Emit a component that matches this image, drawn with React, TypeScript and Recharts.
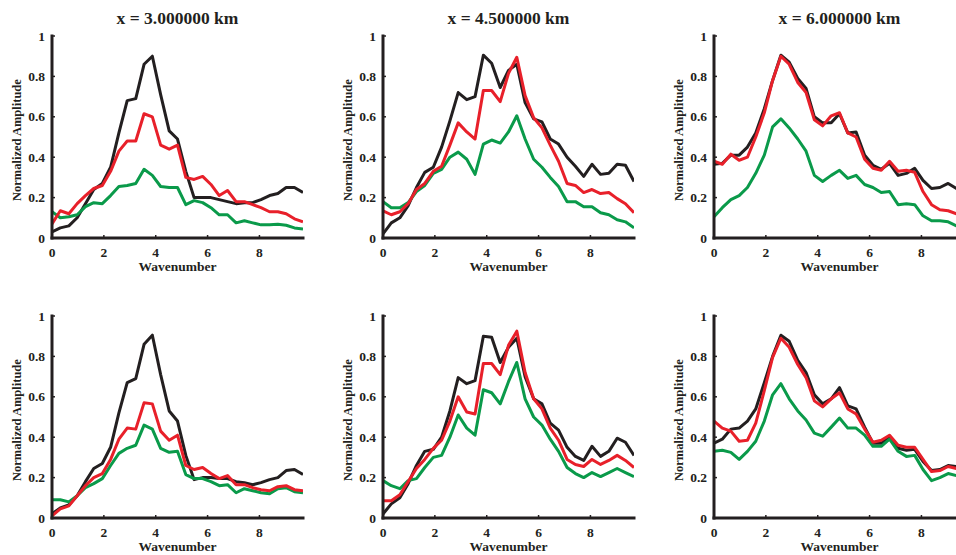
import { LineChart, Line, XAxis, YAxis } from "recharts";

const WAVENUMBERS = [
  0, 0.32, 0.65, 0.97, 1.29, 1.61, 1.94, 2.26, 2.58, 2.9, 3.23, 3.55, 3.87, 4.19, 4.52, 4.84,
  5.16, 5.48, 5.81, 6.13, 6.45, 6.77, 7.1, 7.42, 7.74, 8.06, 8.39, 8.71, 9.03, 9.35, 9.68,
];

const X_TICKS = [0, 2, 4, 6, 8];
const Y_TICKS = [0, 0.2, 0.4, 0.6, 0.8, 1];
const TITLES = ["x = 3.000000 km", "x = 4.500000 km", "x = 6.000000 km"];

// top row
const BLACK_A1 = [0.03, 0.05, 0.06, 0.1, 0.17, 0.24, 0.27, 0.35, 0.52, 0.68, 0.69, 0.86, 0.9, 0.71, 0.53, 0.49, 0.33, 0.2, 0.2, 0.2, 0.19, 0.18, 0.17, 0.175, 0.175, 0.19, 0.21, 0.22, 0.25, 0.25, 0.225];
const RED_A1 = [0.07, 0.135, 0.12, 0.17, 0.21, 0.245, 0.26, 0.33, 0.43, 0.48, 0.48, 0.615, 0.6, 0.46, 0.44, 0.46, 0.3, 0.29, 0.305, 0.265, 0.21, 0.235, 0.18, 0.18, 0.165, 0.15, 0.13, 0.13, 0.12, 0.095, 0.08];
const GREEN_A1 = [0.13, 0.1, 0.105, 0.115, 0.155, 0.175, 0.17, 0.21, 0.255, 0.26, 0.27, 0.34, 0.31, 0.255, 0.25, 0.25, 0.165, 0.185, 0.175, 0.15, 0.115, 0.115, 0.075, 0.085, 0.075, 0.065, 0.065, 0.068, 0.063, 0.05, 0.045];

const BLACK_A2 = [0.02, 0.075, 0.1, 0.16, 0.25, 0.325, 0.35, 0.45, 0.58, 0.72, 0.685, 0.7, 0.905, 0.865, 0.745, 0.83, 0.86, 0.67, 0.59, 0.575, 0.49, 0.465, 0.4, 0.355, 0.305, 0.365, 0.315, 0.32, 0.365, 0.36, 0.28];
const RED_A2 = [0.135, 0.115, 0.13, 0.17, 0.24, 0.27, 0.33, 0.355, 0.46, 0.57, 0.525, 0.49, 0.73, 0.73, 0.675, 0.815, 0.895, 0.705, 0.595, 0.545, 0.46, 0.38, 0.27, 0.26, 0.225, 0.24, 0.22, 0.225, 0.195, 0.17, 0.125];
const GREEN_A2 = [0.18, 0.15, 0.15, 0.175, 0.23, 0.26, 0.32, 0.34, 0.4, 0.425, 0.39, 0.315, 0.465, 0.485, 0.47, 0.525, 0.605, 0.49, 0.39, 0.35, 0.3, 0.255, 0.18, 0.18, 0.155, 0.155, 0.125, 0.115, 0.09, 0.08, 0.05];

const BLACK_A3 = [0.365, 0.37, 0.41, 0.41, 0.45, 0.52, 0.64, 0.78, 0.905, 0.87, 0.79, 0.74, 0.6, 0.57, 0.57, 0.615, 0.52, 0.525, 0.41, 0.36, 0.34, 0.37, 0.31, 0.32, 0.345, 0.285, 0.245, 0.25, 0.27, 0.245, 0.24];
const RED_A3 = [0.38, 0.365, 0.415, 0.385, 0.4, 0.5, 0.62, 0.78, 0.9, 0.86, 0.77, 0.72, 0.585, 0.555, 0.605, 0.62, 0.52, 0.5, 0.39, 0.345, 0.335, 0.38, 0.33, 0.335, 0.325, 0.23, 0.165, 0.14, 0.135, 0.12, 0.11];
const GREEN_A3 = [0.105, 0.15, 0.19, 0.21, 0.25, 0.32, 0.41, 0.55, 0.59, 0.545, 0.49, 0.43, 0.31, 0.28, 0.31, 0.335, 0.295, 0.31, 0.265, 0.25, 0.225, 0.23, 0.165, 0.17, 0.165, 0.11, 0.085, 0.085, 0.08, 0.06, 0.05];

// bottom row
const BLACK_B1 = [0.02, 0.05, 0.065, 0.11, 0.18, 0.245, 0.27, 0.35, 0.52, 0.67, 0.69, 0.86, 0.905, 0.71, 0.53, 0.48, 0.31, 0.19, 0.2, 0.2, 0.195, 0.195, 0.18, 0.175, 0.165, 0.175, 0.19, 0.2, 0.235, 0.24, 0.215];
const RED_B1 = [0.01, 0.045, 0.06, 0.11, 0.16, 0.2, 0.22, 0.29, 0.39, 0.445, 0.44, 0.57, 0.565, 0.43, 0.385, 0.41, 0.26, 0.24, 0.25, 0.22, 0.195, 0.21, 0.165, 0.165, 0.15, 0.14, 0.135, 0.155, 0.16, 0.14, 0.135];
const GREEN_B1 = [0.09, 0.09, 0.08, 0.11, 0.15, 0.17, 0.195, 0.26, 0.32, 0.345, 0.36, 0.46, 0.44, 0.345, 0.325, 0.33, 0.215, 0.195, 0.195, 0.18, 0.16, 0.165, 0.125, 0.145, 0.135, 0.125, 0.12, 0.145, 0.15, 0.13, 0.125];

const BLACK_B2 = [0.02, 0.07, 0.1, 0.17, 0.26, 0.33, 0.34, 0.4, 0.53, 0.695, 0.665, 0.68, 0.9, 0.895, 0.77, 0.845, 0.89, 0.7, 0.59, 0.565, 0.47, 0.435, 0.35, 0.305, 0.285, 0.355, 0.305, 0.33, 0.395, 0.375, 0.31];
const RED_B2 = [0.085, 0.085, 0.115, 0.18, 0.245, 0.29, 0.345, 0.385, 0.48, 0.6, 0.525, 0.515, 0.765, 0.765, 0.71, 0.855, 0.925, 0.72, 0.59, 0.54, 0.445, 0.385, 0.29, 0.265, 0.255, 0.29, 0.265, 0.285, 0.31, 0.285, 0.25];
const GREEN_B2 = [0.185, 0.16, 0.145, 0.185, 0.195, 0.25, 0.3, 0.31, 0.4, 0.51, 0.445, 0.41, 0.635, 0.62, 0.565, 0.675, 0.77, 0.59, 0.5, 0.46, 0.39, 0.33, 0.25, 0.22, 0.2, 0.225, 0.205, 0.225, 0.245, 0.225, 0.205];

const BLACK_B3 = [0.37, 0.39, 0.44, 0.445, 0.48, 0.54, 0.67, 0.8, 0.905, 0.875, 0.78, 0.72, 0.61, 0.565, 0.59, 0.645, 0.555, 0.54, 0.45, 0.37, 0.37, 0.4, 0.345, 0.335, 0.34, 0.28, 0.235, 0.24, 0.26, 0.255, 0.24];
const RED_B3 = [0.48, 0.445, 0.43, 0.38, 0.385, 0.47, 0.63, 0.795, 0.89, 0.845, 0.76, 0.695, 0.58, 0.55, 0.59, 0.62, 0.54, 0.515, 0.44, 0.375, 0.385, 0.41, 0.36, 0.35, 0.35, 0.29, 0.23, 0.235, 0.255, 0.245, 0.23];
const GREEN_B3 = [0.33, 0.335, 0.325, 0.29, 0.33, 0.38, 0.48, 0.61, 0.665, 0.59, 0.53, 0.485, 0.42, 0.405, 0.45, 0.495, 0.445, 0.445, 0.41, 0.355, 0.355, 0.39, 0.33, 0.305, 0.31, 0.24, 0.185, 0.2, 0.22, 0.21, 0.2];

const PANELS = [
  { row: 0, col: 0, black: BLACK_A1, red: RED_A1, green: GREEN_A1 },
  { row: 0, col: 1, black: BLACK_A2, red: RED_A2, green: GREEN_A2 },
  { row: 0, col: 2, black: BLACK_A3, red: RED_A3, green: GREEN_A3 },
  { row: 1, col: 0, black: BLACK_B1, red: RED_B1, green: GREEN_B1 },
  { row: 1, col: 1, black: BLACK_B2, red: RED_B2, green: GREEN_B2 },
  { row: 1, col: 2, black: BLACK_B3, red: RED_B3, green: GREEN_B3 },
];

const INK = "#231f20";
const FONT = '"Liberation Serif", "Times New Roman", serif';

const PLOT_W = 251;
const PLOT_H = 202;
const M_LEFT = 12;
const Y_W = 40;
const M_TOP = 36;
const X_H = 40;
const CHART_W = M_LEFT + Y_W + PLOT_W + 10;
const CHART_H = M_TOP + PLOT_H + X_H;
const COL_X = [0, 331, 662];
const ROW_Y = [0, 280];
const TICK_IN = 3;

const BottomTick = (props: any) => {
  const { x, y, payload } = props;
  return (
    <g>
      <line x1={x} x2={x} y1={y - 6} y2={y - 6 - TICK_IN} stroke={INK} strokeWidth={1.5} />
      <text x={x} y={y + 13} textAnchor="middle" fill={INK} fontFamily={FONT} fontWeight="bold" fontSize={13.5}>
        {payload.value}
      </text>
    </g>
  );
};

const LeftTick = (props: any) => {
  const { x, y, payload } = props;
  return (
    <g>
      <line x1={x + 7} x2={x + 7 + TICK_IN} y1={y} y2={y} stroke={INK} strokeWidth={1.5} />
      <text x={x} y={y + 4.5} textAnchor="end" fill={INK} fontFamily={FONT} fontWeight="bold" fontSize={13.5}>
        {payload.value}
      </text>
    </g>
  );
};

const TopTick = (props: any) => {
  const { x, y } = props;
  return <line x1={x} x2={x} y1={y} y2={y + TICK_IN} stroke={INK} strokeWidth={1.5} />;
};

const RightTick = (props: any) => {
  const { x, y } = props;
  return <line x1={x} x2={x - TICK_IN} y1={y} y2={y} stroke={INK} strokeWidth={1.5} />;
};

const frame = { stroke: INK, strokeWidth: 3, strokeLinecap: "square" as const };

const Panel = ({ black, red, green }: { black: number[]; red: number[]; green: number[] }) => {
  const data = WAVENUMBERS.map((k, i) => ({ k, black: black[i], red: red[i], green: green[i] }));
  return (
    <LineChart width={CHART_W} height={CHART_H} data={data} margin={{ top: M_TOP, right: 10, bottom: 0, left: M_LEFT }}>
      <XAxis
        dataKey="k"
        type="number"
        domain={[0, 9.68]}
        allowDataOverflow
        ticks={X_TICKS}
        tickSize={0}
        tickMargin={6}
        tickLine={false}
        axisLine={frame}
        tick={<BottomTick />}
        height={X_H}
        label={{ value: "Wavenumber", position: "insideBottom", offset: 7, fill: INK, fontFamily: FONT, fontWeight: "bold", fontSize: 13.5 }}
      />
      <XAxis
        xAxisId="top"
        orientation="top"
        type="number"
        domain={[0, 9.68]}
        allowDataOverflow
        ticks={X_TICKS}
        tickSize={0}
        tickMargin={0}
        tickLine={false}
        axisLine={frame}
        tick={<TopTick />}
        height={0}
      />
      <YAxis
        type="number"
        domain={[0, 1]}
        ticks={Y_TICKS}
        tickSize={0}
        tickMargin={7}
        tickLine={false}
        axisLine={frame}
        tick={<LeftTick />}
        width={Y_W}
        label={{ value: "Normalized Amplitude", angle: -90, position: "insideLeft", offset: 5, dy: 64, fill: INK, fontFamily: FONT, fontWeight: "bold", fontSize: 12.5 }}
      />
      <YAxis
        yAxisId="right"
        orientation="right"
        type="number"
        domain={[0, 1]}
        ticks={Y_TICKS}
        tickSize={0}
        tickMargin={0}
        tickLine={false}
        axisLine={frame}
        tick={<RightTick />}
        width={0}
      />
      <Line dataKey="black" stroke={INK} strokeWidth={3} dot={false} isAnimationActive={false} strokeLinejoin="round" />
      <Line dataKey="green" stroke="#0a9a4a" strokeWidth={3} dot={false} isAnimationActive={false} strokeLinejoin="round" />
      <Line dataKey="red" stroke="#e8202a" strokeWidth={3} dot={false} isAnimationActive={false} strokeLinejoin="round" />
    </LineChart>
  );
};

export default function App() {
  return (
    <div style={{ position: "fixed", left: 0, top: 0, width: 956, height: 555, overflow: "hidden", background: "#fff" }}>
      {TITLES.map((t, c) => (
        <div
          key={t}
          style={{
            position: "absolute",
            left: COL_X[c] + M_LEFT + Y_W,
            width: PLOT_W,
            top: 8,
            textAlign: "center",
            fontFamily: FONT,
            fontWeight: "bold",
            fontSize: 17.5,
            lineHeight: "20px",
            color: INK,
            whiteSpace: "nowrap",
          }}
        >
          {t}
        </div>
      ))}
      {PANELS.map((p, i) => (
        <div key={i} style={{ position: "absolute", left: COL_X[p.col], top: ROW_Y[p.row] }}>
          <Panel black={p.black} red={p.red} green={p.green} />
        </div>
      ))}
    </div>
  );
}
